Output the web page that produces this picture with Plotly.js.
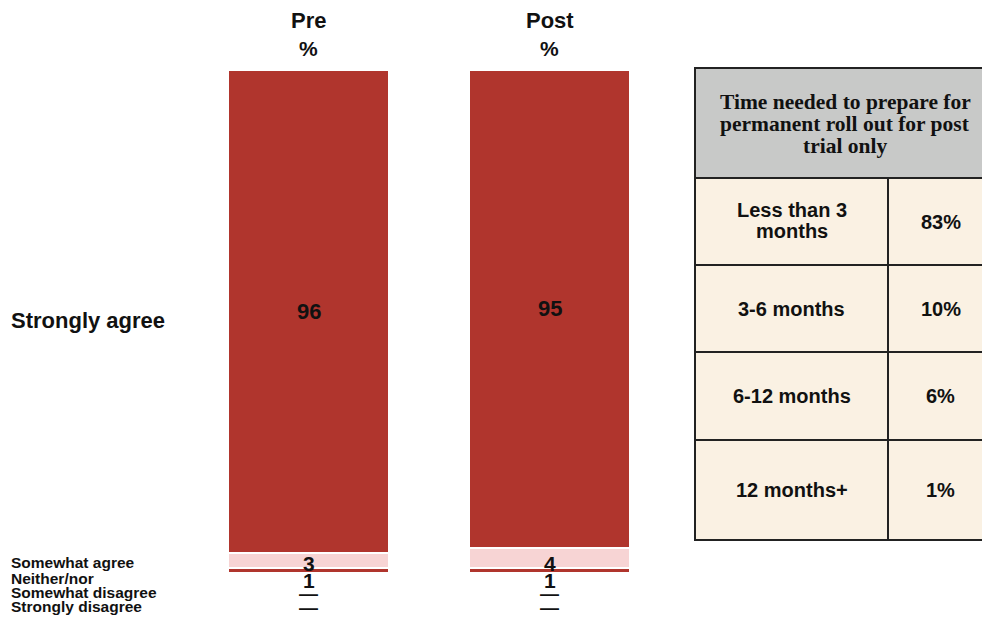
<!DOCTYPE html>
<html>
<head>
<meta charset="utf-8">
<script src="https://cdn.plot.ly/plotly-3.0.1.min.js"></script>
<style>
  html, body { margin: 0; padding: 0; background: #ffffff; }
  #chart { width: 982px; height: 617px; }
</style>
</head>
<body>
<div id="chart"></div>
<script>
// Survey waves (columns of the stacked bars)
const waves = ["Pre", "Post"];

// Response categories, listed top to bottom as they appear on the chart
const responses = ["Strongly agree", "Somewhat agree", "Neither/nor", "Somewhat disagree", "Strongly disagree"];

// Share of respondents (%) per response, one value per wave
const stronglyAgree    = [96, 95];
const somewhatAgree    = [3, 4];
const neitherNor       = [1, 1];
const somewhatDisagree = [0, 0];
const stronglyDisagree = [0, 0];

// Side table: time needed to prepare for permanent roll out (post trial only)
const tableTitle = "Time needed to prepare for<br>permanent roll out for post<br>trial only";
const prepTimes  = ["Less than 3<br>months", "3-6 months", "6-12 months", "12 months+"];
const prepShares = [83, 10, 6, 1];

const RED  = "#b0352d";
const PINK = "#f7d4d4";
const FONT = "Liberation Sans, Arial, sans-serif";
const SERIF = "Liberation Serif, Times New Roman, serif";

const seriesByResponse = {
  "Strongly agree": stronglyAgree,
  "Somewhat agree": somewhatAgree,
  "Neither/nor": neitherNor,
  "Somewhat disagree": somewhatDisagree,
  "Strongly disagree": stronglyDisagree
};
const colorByResponse = {
  "Strongly agree": RED,
  "Somewhat agree": PINK,
  "Neither/nor": RED,
  "Somewhat disagree": PINK,
  "Strongly disagree": RED
};

// Plot area in pixels (used to place labels and the side table)
const W = 982, H = 617;
const M = { l: 188, r: 312, t: 70, b: 44 };
const plotW = W - M.l - M.r, plotH = H - M.t - M.b;
const px2x = px => (px - M.l) / plotW;
const px2y = py => (H - M.b - py) / plotH;

// Stack from the bottom: last response first
const stackOrder = responses.slice().reverse();
const traces = stackOrder.map(r => ({
  type: "bar",
  name: r,
  x: waves,
  y: seriesByResponse[r],
  width: 0.665,
  marker: { color: colorByResponse[r], line: { color: "#ffffff", width: 2 } },
  hoverinfo: "skip",
  showlegend: false
}));

const annotations = [];
const shapes = [];
const label = (x, y, text, size, opts) => Object.assign({
  xref: "paper", yref: "paper", x: x, y: y, text: "<b>" + text + "</b>", showarrow: false,
  xanchor: "center", yanchor: "middle", font: { family: FONT, size: size, color: "#111" }
}, opts || {});

// Wave headers above each bar
waves.forEach(w => {
  annotations.push(label(w, px2y(20), w, 22, { xref: "x" }));
  annotations.push(label(w, px2y(48), "%", 21, { xref: "x" }));
});

// Response labels on the left; small categories sit in rows under the bars
const rowY = { "Somewhat agree": 563, "Neither/nor": 579, "Somewhat disagree": 593, "Strongly disagree": 607 };
annotations.push(label(px2x(9), px2y(320), "Strongly agree", 22, { xanchor: "left" }));
responses.slice(1).forEach(r => {
  annotations.push(label(px2x(9), px2y(rowY[r] - 1), r, 15.5, { xanchor: "left" }));
});

// Value labels
waves.forEach((w, i) => {
  const below = stronglyDisagree[i] + somewhatDisagree[i] + neitherNor[i] + somewhatAgree[i];
  annotations.push(label(w, below + stronglyAgree[i] / 2, stronglyAgree[i], 22, { xref: "x", yref: "y" }));
  responses.slice(1).forEach(r => {
    const v = seriesByResponse[r][i];
    annotations.push(label(w, px2y(rowY[r] + (r === "Neither/nor" ? 1 : 0)),
      v === 0 ? "\u2014" : v, v === 0 ? 19 : 21, { xref: "x" }));
  });
});

// Side table drawn with shapes and annotations
const tL = 695, tR = 995, tMid = 888, tTop = 68, hBot = 178;
const rowEdges = [178, 265, 352, 440, 540];
const BORDER = "#222222";
const CREAM = "#faf1e3";
shapes.push({ type: "rect", xref: "paper", yref: "paper", x0: px2x(tL), x1: px2x(tR), y0: px2y(tTop), y1: px2y(hBot),
  fillcolor: "#c8c9c8", line: { color: BORDER, width: 2 }, layer: "below" });
// Title lines, tightly spaced
const titleLines = tableTitle.split("<br>");
const titleMid = (tTop + hBot) / 2 + 1;
titleLines.forEach((t, k) => {
  const y = titleMid + (k - (titleLines.length - 1) / 2) * 22;
  annotations.push(label(px2x((tL + tR) / 2), px2y(y), t, 21.5, { font: { family: SERIF, size: 21.5, color: "#111" } }));
});
prepTimes.forEach((name, i) => {
  const y0 = rowEdges[i], y1 = rowEdges[i + 1], yc = (y0 + y1) / 2;
  shapes.push({ type: "rect", xref: "paper", yref: "paper", x0: px2x(tL), x1: px2x(tMid), y0: px2y(y0), y1: px2y(y1),
    fillcolor: CREAM, line: { color: BORDER, width: 2 }, layer: "below" });
  shapes.push({ type: "rect", xref: "paper", yref: "paper", x0: px2x(tMid), x1: px2x(tR), y0: px2y(y0), y1: px2y(y1),
    fillcolor: CREAM, line: { color: BORDER, width: 2 }, layer: "below" });
  const lines = name.split("<br>");
  lines.forEach((t, k) => {
    const y = yc + (k - (lines.length - 1) / 2) * 20 - (lines.length > 1 ? 1 : 0);
    annotations.push(label(px2x((tL + tMid) / 2), px2y(y), t, 20));
  });
  annotations.push(label(px2x((tMid + tR) / 2 - 1), px2y(yc), prepShares[i] + "%", 20));
});

const layout = {
  width: W, height: H,
  margin: M,
  paper_bgcolor: "#ffffff",
  plot_bgcolor: "#ffffff",
  barmode: "stack",
  showlegend: false,
  xaxis: { type: "category", range: [-0.5, 1.5], visible: false, fixedrange: true },
  yaxis: { range: [0, 100], visible: false, fixedrange: true },
  annotations: annotations,
  shapes: shapes
};

Plotly.newPlot("chart", traces, layout, { displayModeBar: false, staticPlot: true });
</script>
</body>
</html>
